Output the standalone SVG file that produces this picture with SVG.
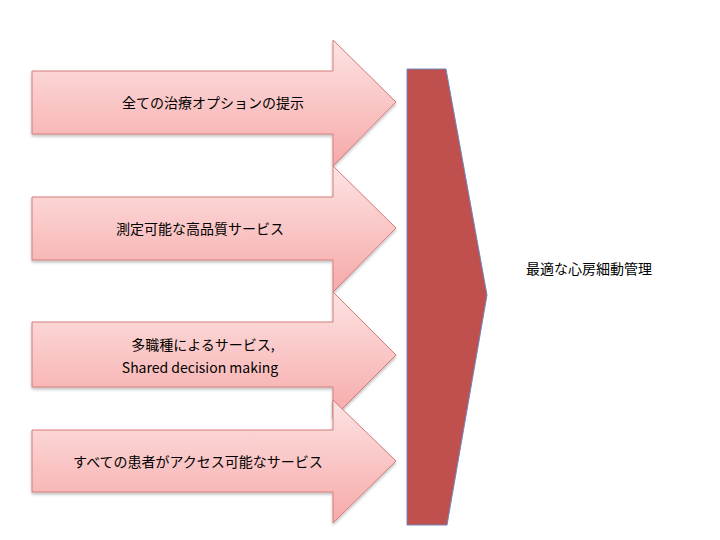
<svg xmlns="http://www.w3.org/2000/svg" width="720" height="540" viewBox="0 0 720 540">
<defs>
<linearGradient id="g" x1="0" y1="0" x2="0" y2="1">
<stop offset="0" stop-color="#fde3e3"/><stop offset="1" stop-color="#f7a9a9"/>
</linearGradient>
<filter id="sh" x="-5%" y="-5%" width="110%" height="115%"><feDropShadow dx="0" dy="2" stdDeviation="1.5" flood-color="#000" flood-opacity="0.25"/></filter>
</defs>
<style>
.a{fill:url(#g);stroke:#d47c7c;stroke-width:1;filter:url(#sh)}
.t{font-family:"Noto Sans CJK JP","Open Sans",sans-serif;font-size:14px;fill:#000;text-anchor:middle}
</style>
<rect width="720" height="540" fill="#fff"/>
<g id="n1"><path class="a" d="M32,71 H333 V40 L396,102 L333,166 V134 H32 Z"/><text class="t" x="213" y="108">全ての治療オプションの提示</text></g>
<g id="n2"><path class="a" d="M32,197 H333 V166 L396,228 L333,292 V260 H32 Z"/><text class="t" x="200" y="234">測定可能な高品質サービス</text></g>
<g id="n3"><path class="a" d="M32,322 H333 V292 L396,355 L333,418 V387 H32 Z"/><text class="t" x="203" y="350">多職種によるサービス,</text><text class="t" x="200" y="373" font-family="Open Sans">Shared decision making</text></g>
<g id="n4"><path class="a" d="M32,430 H333 V400 L396,461 L333,523 V492 H32 Z"/><text class="t" x="198" y="467">すべての患者がアクセス可能なサービス</text></g>
<g id="n5"><path d="M407,69 H446 L487,295 L447,525 H407 Z" fill="#c0504d" stroke="#6f86c0" stroke-width="1"/></g>
<g id="n6"><text class="t" x="589" y="274">最適な心房細動管理</text></g>
<g id="connectors"/>
</svg>
